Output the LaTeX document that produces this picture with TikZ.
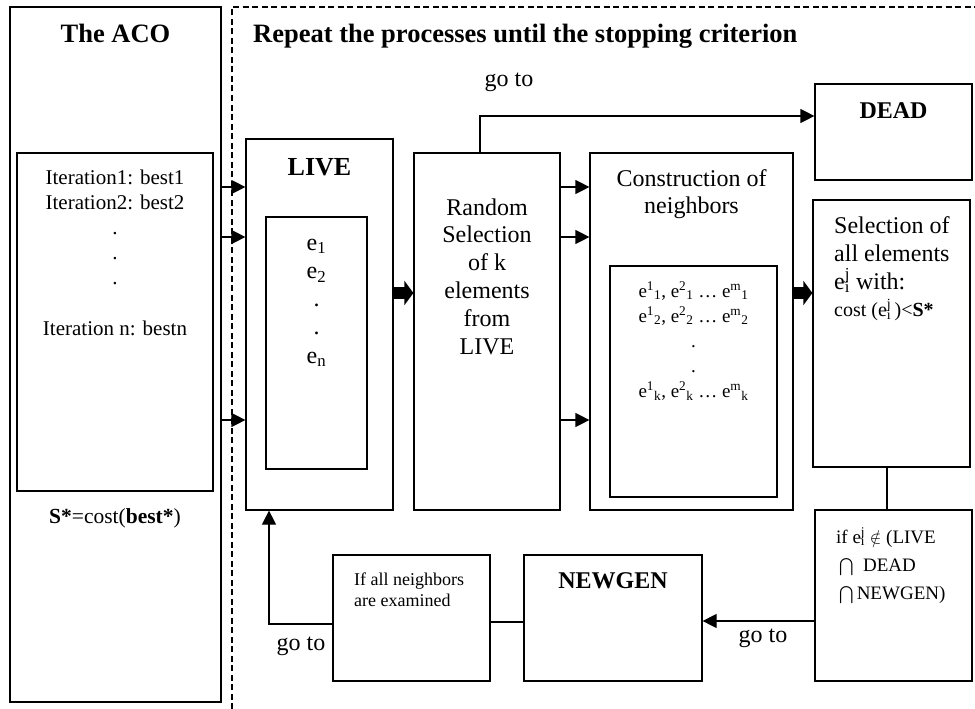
\documentclass[tikz,border=0pt]{standalone}
\usepackage{exscale}
\usepackage{fontspec}
\setmainfont{Liberation Serif}
\usetikzlibrary{arrows.meta}
\newcommand{\fs}[1]{\fontsize{#1}{#1}\selectfont}
\newcommand{\eij}{e\rlap{\textsuperscript{j}}\textsubscript{i}}
\newcommand{\ekl}[2]{e\textsuperscript{#1}\textsubscript{#2}}
\tikzset{
  box/.style={draw, line width=1.2pt, inner sep=0pt},
  txt/.style={inner sep=0pt, anchor=base},
  ltxt/.style={inner sep=0pt, anchor=base west},
  arr/.style={line width=1.2pt, -{Triangle[length=14pt,width=14pt]}},
  fat/.style={line width=12pt, -{Triangle[length=9pt,width=24pt]}},
  link/.style={line width=1.2pt}
}
\begin{document}
\begin{tikzpicture}[x=1pt,y=-1pt]
	\useasboundingbox (0,0) rectangle (975,709);
	%keretek
	\draw [dashed, dash pattern=on 6pt off 3.5pt, line width=1.2pt] (232,709) -- (232,7) -- (975,7);
	\node [box, minimum width=211pt, minimum height=695pt] (aco) at (115.5,354.5) {};
	\node [box, minimum width=196pt, minimum height=338pt] (acoin) at (115,322) {};
	\node [box, minimum width=147pt, minimum height=371pt] (live) at (319.5,324.5) {};
	\node [box, minimum width=101pt, minimum height=252pt] (livein) at (316.5,343) {};
	\node [box, minimum width=146pt, minimum height=357pt] (rand) at (487,331.5) {};
	\node [box, minimum width=203pt, minimum height=357pt] (cons) at (691.5,331.5) {};
	\node [box, minimum width=167pt, minimum height=231pt] (consin) at (693.5,381.5) {};
	\node [box, minimum width=157pt, minimum height=96pt] (dead) at (893.5,132) {};
	\node [box, minimum width=157pt, minimum height=267pt] (sel) at (891.5,333.5) {};
	\node [box, minimum width=157pt, minimum height=171pt] (ifbox) at (893.5,595.5) {};
	\node [box, minimum width=178pt, minimum height=126pt] (newgen) at (613,618) {};
	\node [box, minimum width=157pt, minimum height=126pt] (allbox) at (411.5,618) {};

	%feliratok
	\node [txt, font=\bfseries\fs{26.5}] (acotitle) at (115.5,43) {The ACO};
	\node [ltxt, font=\bfseries\fs{26.5}] (reptitle) at (253,43) {Repeat the processes until the stopping criterion};
	\foreach \t/\y [count=\i] in {Iteration1: best1/184, Iteration2: best2/209, ./234, ./259, ./284, Iteration n: bestn/335}
		\node [txt, font=\fs{21}] (iter\i) at (115,\y) {\t};
	\node [txt, font=\fs{21.5}] (sstar) at (115,523) {\textbf{S*}=cost(\textbf{best*})};
	\node [txt, font=\bfseries\fs{26}] (livetitle) at (319.5,175) {LIVE};
	\foreach \t [count=\i] in {e\textsubscript{1}, e\textsubscript{2}, ., ., e\textsubscript{n}}
		\node [txt, font=\fs{24}] (elem\i) at (316.5,221.7+28.3*\i) {\t};
	\foreach \t [count=\i] in {Random, Selection, of k, elements, from, LIVE}
		\node [txt, font=\fs{24}] (randtxt\i) at (487,187.2+27.8*\i) {\t};
	\node [txt, font=\fs{24}] (constxt1) at (691.5,186) {Construction of};
	\node [txt, font=\fs{24}] (constxt2) at (691.5,213) {neighbors};
	\foreach \t [count=\i] in {{\ekl{1}{1}, \ekl{2}{1} \ldots{} \ekl{m}{1}}, {\ekl{1}{2}, \ekl{2}{2} \ldots{} \ekl{m}{2}}, ., ., {\ekl{1}{k}, \ekl{2}{k} \ldots{} \ekl{m}{k}}}
		\node [txt, font=\fs{19}] (neigh\i) at (693.5,272+25*\i) {\t};
	\node [txt, font=\bfseries\fs{24}] (deadtitle) at (893.5,118) {DEAD};
	\foreach \t/\y [count=\i] in {Selection of/233, all elements/261, \eij{} with:/289}
		\node [ltxt, font=\fs{24}] (seltxt\i) at (834,\y) {\t};
	\node [ltxt, font=\fs{20}] (seltxt4) at (834,316) {cost (\eij\,)<\textbf{S*}};
	\node [ltxt, font=\fs{19}] (iftxt1) at (836,543) {if \eij\ $\notin$ (LIVE};
	\node [ltxt, font=\fs{19}] (iftxt2) at (839,571) {$\bigcap$\ \ DEAD};
	\node [ltxt, font=\fs{19}] (iftxt3) at (839,599) {$\bigcap$\,NEWGEN)};
	\node [txt, font=\bfseries\fs{24}] (newgentitle) at (613,588) {NEWGEN};
	\node [ltxt, font=\fs{18}] (alltxt1) at (354,585) {If all neighbors};
	\node [ltxt, font=\fs{18}] (alltxt2) at (354,606) {are examined};

	%nyilak
	\foreach \y in {187,237,420}
		\draw [arr] (aco.east |- 0,\y) -- (live.west |- 0,\y);
	\foreach \y in {187,237,420}
		\draw [arr] (rand.east |- 0,\y) -- (cons.west |- 0,\y);
	\draw [fat] (live.east |- 0,293) -- (rand.west |- 0,293);
	\draw [fat] (cons.east |- 0,293) -- (sel.west |- 0,293);
	\draw [arr] (480,0 |- rand.north) |- (dead.west |- 0,116);
	\node [txt, font=\fs{24}] (gototop) at (509,87) {go to};
	\draw [link] (887,0 |- sel.south) -- (887,0 |- ifbox.north);
	\draw [arr] (ifbox.west |- 0,621) -- (newgen.east |- 0,621);
	\node [txt, font=\fs{24}] (gotoright) at (763,642) {go to};
	\draw [link] (newgen.west |- 0,622) -- (allbox.east |- 0,622);
	\draw [arr] (allbox.west |- 0,624) -| (269,0 |- live.south);
	\node [txt, font=\fs{24}] (gotoleft) at (301,650) {go to};
\end{tikzpicture}
\end{document}
